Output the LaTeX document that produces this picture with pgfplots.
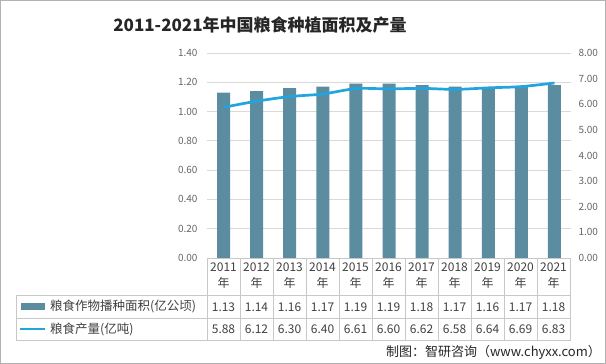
\documentclass[border=0pt]{standalone}
\usepackage{pgfplots}
\pgfplotsset{compat=1.18}
\usepackage{fontspec}
\setmainfont{Noto Sans CJK SC}
\definecolor{barc}{RGB}{91,140,160}
\definecolor{linec}{RGB}{34,165,222}
\definecolor{tickc}{RGB}{100,100,100}
\definecolor{gridc}{RGB}{217,217,217}
\definecolor{tabc}{RGB}{200,200,200}
\definecolor{txtc}{RGB}{64,64,64}
\begin{document}
\begin{tikzpicture}[x=1pt,y=1pt]
\useasboundingbox (0,0) rectangle (606,364);
\draw[gray!60] (0.5,0.5) rectangle (605.5,363.5);
% left axis with bars
\begin{axis}[at={(207pt,106pt)}, anchor=south west, scale only axis,
  width=364pt, height=205pt,
  xmin=-0.5, xmax=10.5, ymin=0, ymax=1.4,
  ytick={0,0.2,0.4,0.6,0.8,1.0,1.2,1.4},
  xtick=\empty,
  axis x line=none, axis y line*=left,
  y axis line style={draw=none}, major tick length=0pt,
  ymajorgrids, grid style={gridc, line width=0.8pt},
  /pgf/number format/assume math mode=true,
  yticklabel style={/pgf/number format/fixed, /pgf/number format/fixed zerofill, /pgf/number format/precision=2,
    font=\fontsize{10}{12}\selectfont, text=tickc, xshift=-6pt},
  clip=false]
\addplot[ybar, bar width=13pt, fill=barc, draw=none] coordinates {
(0,1.13) (1,1.14) (2,1.16) (3,1.17) (4,1.19) (5,1.19) (6,1.18) (7,1.17) (8,1.16) (9,1.17) (10,1.18)};
\end{axis}
% right axis with line
\begin{axis}[at={(207pt,106pt)}, anchor=south west, scale only axis,
  width=364pt, height=205pt,
  xmin=-0.5, xmax=10.5, ymin=0, ymax=8,
  ytick={0,1,2,3,4,5,6,7,8},
  xtick=\empty,
  axis x line=none, axis y line*=right,
  y axis line style={draw=none}, major tick length=0pt,
  /pgf/number format/assume math mode=true,
  yticklabel style={/pgf/number format/fixed, /pgf/number format/fixed zerofill, /pgf/number format/precision=2,
    font=\fontsize{10}{12}\selectfont, text=tickc, xshift=4pt},
  clip=false]
\addplot[smooth, linec, line width=2.7pt] coordinates {
(0,5.88) (1,6.12) (2,6.30) (3,6.40) (4,6.61) (5,6.60) (6,6.62) (7,6.58) (8,6.64) (9,6.69) (10,6.83)};
\end{axis}
% title
\node[font=\fontsize{17}{20}\selectfont\bfseries, text=black!85] at (260,339) {2011-2021年中国粮食种植面积及产量};
% table lines
\draw[tabc, line width=0.8pt] (207,106) -- (571,106);
\draw[tabc, line width=0.8pt] (16,69) -- (571,69);
\draw[tabc, line width=0.8pt] (16,46) -- (571,46);
\draw[tabc, line width=0.8pt] (16,24) -- (571,24);
\draw[tabc, line width=0.8pt] (16,69) -- (16,24);
\foreach \i in {0,...,11} {
  \draw[tabc, line width=0.8pt] ({207+33*\i},106) -- ({207+33*\i},24);
}
% header and values
\foreach \yr [count=\i from 0] in {2011,2012,2013,2014,2015,2016,2017,2018,2019,2020,2021} {
  \node[font=\fontsize{12}{14}\selectfont, text=txtc] at ({223.5+33*\i},97) {\yr};
  \node[font=\fontsize{12}{14}\selectfont, text=txtc] at ({223.5+33*\i},81) {年};
}
\foreach \v [count=\i from 0] in {1.13,1.14,1.16,1.17,1.19,1.19,1.18,1.17,1.16,1.17,1.18} {
  \node[font=\fontsize{12}{14}\selectfont, text=txtc] at ({223.5+33*\i},57) {\v};
}
\foreach \v [count=\i from 0] in {5.88,6.12,6.30,6.40,6.61,6.60,6.62,6.58,6.64,6.69,6.83} {
  \node[font=\fontsize{12}{14}\selectfont, text=txtc] at ({223.5+33*\i},35) {\v};
}
% legend in table
\fill[barc] (21,54) rectangle (45,61);
\node[anchor=west, font=\fontsize{12.5}{14}\selectfont, text=txtc, inner sep=0pt] at (50,57.5) {粮食作物播种面积(亿公顷)};
\draw[linec, line width=2.7pt] (20,35) -- (45,35);
\node[anchor=west, font=\fontsize{12.5}{14}\selectfont, text=txtc, inner sep=0pt] at (50,35) {粮食产量(亿吨)};
% footer
\node[anchor=east, font=\fontsize{13}{15}\selectfont, text=black!85, inner sep=0pt] at (601,12) {制图：智研咨询（www.chyxx.com）};
\end{tikzpicture}
\end{document}
